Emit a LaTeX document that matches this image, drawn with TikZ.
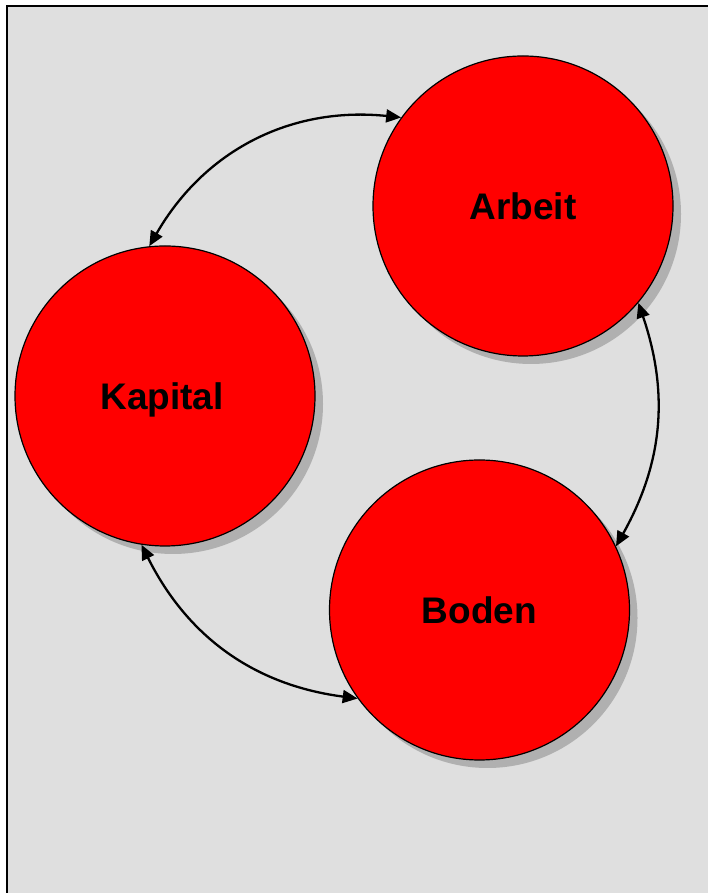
\documentclass[tikz,border=0pt]{standalone}
\usepackage{fontspec}
\setmainfont{Liberation Sans}
\usetikzlibrary{arrows.meta,shadows}
\definecolor{bggray}{HTML}{DFDFDF}
\definecolor{shadowgray}{HTML}{B0B0B0}
\definecolor{factorred}{HTML}{FF0000}
\begin{document}
\begin{tikzpicture}[x=1pt,y=1pt,
  factor/.style={circle, draw=black, line width=1.2pt, fill=factorred,
    minimum size=300pt, inner sep=0pt,
    font=\fontsize{37}{41}\selectfont\bfseries,
    text height=28pt, text depth=0pt,
    drop shadow={shadow xshift=8pt, shadow yshift=-8pt, fill=shadowgray, opacity=1}},
  link/.style={line width=2.3pt, {Triangle[length=15pt,width=13pt]}-{Triangle[length=15pt,width=13pt]}}]
  \useasboundingbox (0,0) rectangle (708,893);
  % panel
  \fill[bggray] (7,0) rectangle (708,887);
  \draw[line width=2.5pt] (7,0) -- (7,887) -- (708,887);
  % the three factors
  \node[factor] (arbeit)  at (523,687) {Arbeit};
  \node[factor] (kapital) at (165,497) {\hspace*{-6pt}Kapital};
  \node[factor] (boden)   at (479.5,283) {Boden};
  % relations
  \draw[link] (kapital.96) to[bend left=33] (arbeit.144);
  \draw[link] (arbeit.-40) to[bend left=24] (boden.25);
  \draw[link] (kapital.-99) to[bend right=28] (boden.216);
\end{tikzpicture}
\end{document}
